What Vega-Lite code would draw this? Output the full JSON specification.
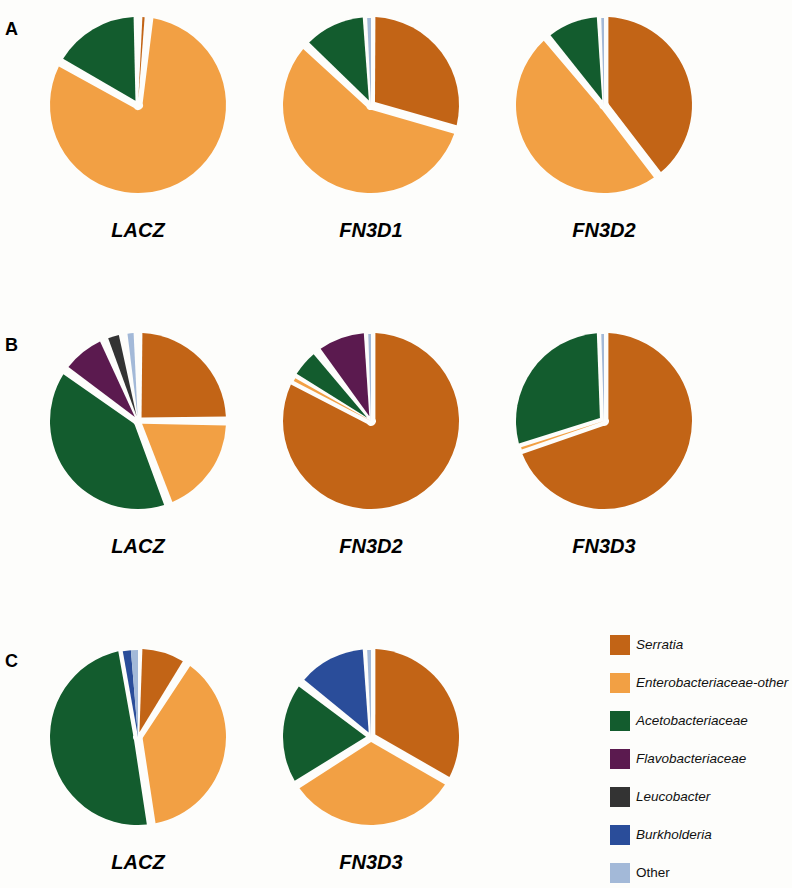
{
  "$schema": "https://vega.github.io/schema/vega-lite/v6.json",
  "background": "#fdfdfb",
  "padding": {"left": 5, "top": 5, "right": 5, "bottom": 5},
  "datasets": {
    "pies": [
      {"panel": "A1", "rank": 1, "taxon": "Serratia", "pct": 2},
      {"panel": "A1", "rank": 2, "taxon": "Enterobacteriaceae-other", "pct": 81},
      {"panel": "A1", "rank": 3, "taxon": "Acetobacteriaceae", "pct": 17},
      {"panel": "A2", "rank": 1, "taxon": "Serratia", "pct": 29.5},
      {"panel": "A2", "rank": 2, "taxon": "Enterobacteriaceae-other", "pct": 57.3},
      {"panel": "A2", "rank": 3, "taxon": "Acetobacteriaceae", "pct": 12.5},
      {"panel": "A2", "rank": 7, "taxon": "Other", "pct": 0.7},
      {"panel": "A3", "rank": 1, "taxon": "Serratia", "pct": 39.6},
      {"panel": "A3", "rank": 2, "taxon": "Enterobacteriaceae-other", "pct": 49.2},
      {"panel": "A3", "rank": 3, "taxon": "Acetobacteriaceae", "pct": 10.7},
      {"panel": "A3", "rank": 7, "taxon": "Other", "pct": 0.5},
      {"panel": "B1", "rank": 1, "taxon": "Serratia", "pct": 25},
      {"panel": "B1", "rank": 2, "taxon": "Enterobacteriaceae-other", "pct": 19.4},
      {"panel": "B1", "rank": 3, "taxon": "Acetobacteriaceae", "pct": 40.3},
      {"panel": "B1", "rank": 4, "taxon": "Flavobacteriaceae", "pct": 9},
      {"panel": "B1", "rank": 5, "taxon": "Leucobacter", "pct": 3.6},
      {"panel": "B1", "rank": 7, "taxon": "Other", "pct": 2.7},
      {"panel": "B2", "rank": 1, "taxon": "Serratia", "pct": 82.6},
      {"panel": "B2", "rank": 2, "taxon": "Enterobacteriaceae-other", "pct": 0.6},
      {"panel": "B2", "rank": 3, "taxon": "Acetobacteriaceae", "pct": 6.3},
      {"panel": "B2", "rank": 4, "taxon": "Flavobacteriaceae", "pct": 10},
      {"panel": "B2", "rank": 7, "taxon": "Other", "pct": 0.5},
      {"panel": "B3", "rank": 1, "taxon": "Serratia", "pct": 69.7},
      {"panel": "B3", "rank": 2, "taxon": "Enterobacteriaceae-other", "pct": 0.4},
      {"panel": "B3", "rank": 3, "taxon": "Acetobacteriaceae", "pct": 29.4},
      {"panel": "B3", "rank": 7, "taxon": "Other", "pct": 0.5},
      {"panel": "C1", "rank": 1, "taxon": "Serratia", "pct": 9.3},
      {"panel": "C1", "rank": 2, "taxon": "Enterobacteriaceae-other", "pct": 38.3},
      {"panel": "C1", "rank": 3, "taxon": "Acetobacteriaceae", "pct": 49.6},
      {"panel": "C1", "rank": 6, "taxon": "Burkholderia", "pct": 1.5},
      {"panel": "C1", "rank": 7, "taxon": "Other", "pct": 1.3},
      {"panel": "C2", "rank": 1, "taxon": "Serratia", "pct": 33.3},
      {"panel": "C2", "rank": 2, "taxon": "Enterobacteriaceae-other", "pct": 32.6},
      {"panel": "C2", "rank": 3, "taxon": "Acetobacteriaceae", "pct": 19.6},
      {"panel": "C2", "rank": 6, "taxon": "Burkholderia", "pct": 13.8},
      {"panel": "C2", "rank": 7, "taxon": "Other", "pct": 0.7}
    ]
  },
  "data": {"name": "pies"},
  "spacing": 80,
  "vconcat": [
    {
      "title": {"text": "A", "orient": "left", "anchor": "end", "angle": 0, "align": "right", "baseline": "top", "offset": 17, "dy": 16, "fontSize": 18, "fontWeight": "bold", "fontStyle": "normal"},
      "spacing": 53,
      "hconcat": [
        {"width": 180, "height": 200, "title": "LACZ", "transform": [{"filter": "datum.panel == 'A1'"}],
         "encoding": {"theta": {"field": "pct", "type": "quantitative", "stack": true}, "order": {"field": "rank", "type": "quantitative"},
           "color": {"field": "taxon", "type": "nominal",
             "scale": {"domain": ["Serratia", "Enterobacteriaceae-other", "Acetobacteriaceae", "Flavobacteriaceae", "Leucobacter", "Burkholderia", "Other"], "range": ["#c26416", "#f2a044", "#135c2e", "#5b1a4f", "#333333", "#2a4d9a", "#a3b9d8"]},
             "legend": {"labelFontStyle": {"expr": "datum.label === 'Other' ? 'normal' : 'italic'"}}}},
         "layer": [
           {"mark": {"type": "arc", "radius": 88, "innerRadius": 5, "padAngle": 0.1}},
           {"mark": {"type": "arc", "radius": 87}, "encoding": {"opacity": {"condition": {"test": "datum.pct < 2", "value": 1}, "value": 0}}}
         ]},
        {"width": 180, "height": 200, "title": "FN3D1", "transform": [{"filter": "datum.panel == 'A2'"}],
         "encoding": {"theta": {"field": "pct", "type": "quantitative", "stack": true}, "order": {"field": "rank", "type": "quantitative"}, "color": {"field": "taxon", "type": "nominal"}},
         "layer": [
           {"mark": {"type": "arc", "radius": 88, "innerRadius": 5, "padAngle": 0.1}},
           {"mark": {"type": "arc", "radius": 87}, "encoding": {"opacity": {"condition": {"test": "datum.pct < 2", "value": 1}, "value": 0}}}
         ]},
        {"width": 180, "height": 200, "title": "FN3D2", "transform": [{"filter": "datum.panel == 'A3'"}],
         "encoding": {"theta": {"field": "pct", "type": "quantitative", "stack": true}, "order": {"field": "rank", "type": "quantitative"}, "color": {"field": "taxon", "type": "nominal"}},
         "layer": [
           {"mark": {"type": "arc", "radius": 88, "innerRadius": 5, "padAngle": 0.1}},
           {"mark": {"type": "arc", "radius": 87}, "encoding": {"opacity": {"condition": {"test": "datum.pct < 2", "value": 1}, "value": 0}}}
         ]}
      ]
    },
    {
      "title": {"text": "B", "orient": "left", "anchor": "end", "angle": 0, "align": "right", "baseline": "top", "offset": 17, "dy": 16, "fontSize": 18, "fontWeight": "bold", "fontStyle": "normal"},
      "spacing": 53,
      "hconcat": [
        {"width": 180, "height": 200, "title": "LACZ", "transform": [{"filter": "datum.panel == 'B1'"}],
         "encoding": {"theta": {"field": "pct", "type": "quantitative", "stack": true}, "order": {"field": "rank", "type": "quantitative"}, "color": {"field": "taxon", "type": "nominal"}},
         "layer": [
           {"mark": {"type": "arc", "radius": 88, "innerRadius": 5, "padAngle": 0.1}},
           {"mark": {"type": "arc", "radius": 87}, "encoding": {"opacity": {"condition": {"test": "datum.pct < 2", "value": 1}, "value": 0}}}
         ]},
        {"width": 180, "height": 200, "title": "FN3D2", "transform": [{"filter": "datum.panel == 'B2'"}],
         "encoding": {"theta": {"field": "pct", "type": "quantitative", "stack": true}, "order": {"field": "rank", "type": "quantitative"}, "color": {"field": "taxon", "type": "nominal"}},
         "layer": [
           {"mark": {"type": "arc", "radius": 88, "innerRadius": 5, "padAngle": 0.1}},
           {"mark": {"type": "arc", "radius": 87}, "encoding": {"opacity": {"condition": {"test": "datum.pct < 2", "value": 1}, "value": 0}}}
         ]},
        {"width": 180, "height": 200, "title": "FN3D3", "transform": [{"filter": "datum.panel == 'B3'"}],
         "encoding": {"theta": {"field": "pct", "type": "quantitative", "stack": true}, "order": {"field": "rank", "type": "quantitative"}, "color": {"field": "taxon", "type": "nominal"}},
         "layer": [
           {"mark": {"type": "arc", "radius": 88, "innerRadius": 5, "padAngle": 0.1}},
           {"mark": {"type": "arc", "radius": 87}, "encoding": {"opacity": {"condition": {"test": "datum.pct < 2", "value": 1}, "value": 0}}}
         ]}
      ]
    },
    {
      "title": {"text": "C", "orient": "left", "anchor": "end", "angle": 0, "align": "right", "baseline": "top", "offset": 17, "dy": 16, "fontSize": 18, "fontWeight": "bold", "fontStyle": "normal"},
      "spacing": 53,
      "hconcat": [
        {"width": 180, "height": 200, "title": "LACZ", "transform": [{"filter": "datum.panel == 'C1'"}],
         "encoding": {"theta": {"field": "pct", "type": "quantitative", "stack": true}, "order": {"field": "rank", "type": "quantitative"}, "color": {"field": "taxon", "type": "nominal"}},
         "layer": [
           {"mark": {"type": "arc", "radius": 88, "innerRadius": 5, "padAngle": 0.1}},
           {"mark": {"type": "arc", "radius": 87}, "encoding": {"opacity": {"condition": {"test": "datum.pct < 2", "value": 1}, "value": 0}}}
         ]},
        {"width": 180, "height": 200, "title": "FN3D3", "transform": [{"filter": "datum.panel == 'C2'"}],
         "encoding": {"theta": {"field": "pct", "type": "quantitative", "stack": true}, "order": {"field": "rank", "type": "quantitative"}, "color": {"field": "taxon", "type": "nominal"}},
         "layer": [
           {"mark": {"type": "arc", "radius": 88, "innerRadius": 5, "padAngle": 0.1}},
           {"mark": {"type": "arc", "radius": 87}, "encoding": {"opacity": {"condition": {"test": "datum.pct < 2", "value": 1}, "value": 0}}}
         ]}
      ]
    }
  ],
  "resolve": {"scale": {"color": "shared"}},
  "config": {
    "font": "Liberation Sans",
    "view": {"stroke": null},
    "title": {"orient": "bottom", "offset": 16, "fontSize": 20, "fontWeight": "bold", "fontStyle": "italic", "color": "#000000", "font": "Liberation Sans"},
    "legend": {
      "orient": "none",
      "legendX": 562,
      "legendY": 630,
      "title": null,
      "symbolType": "square",
      "symbolSize": 400,
      "symbolStrokeWidth": 0,
      "symbolOpacity": 1,
      "labelFontSize": 13.5,
      "labelFont": "Liberation Sans",
      "labelColor": "#111111",
      "labelOffset": 6,
      "rowPadding": 18,
      "labelLimit": 300
    },
    "arc": {"stroke": null}
  }
}
